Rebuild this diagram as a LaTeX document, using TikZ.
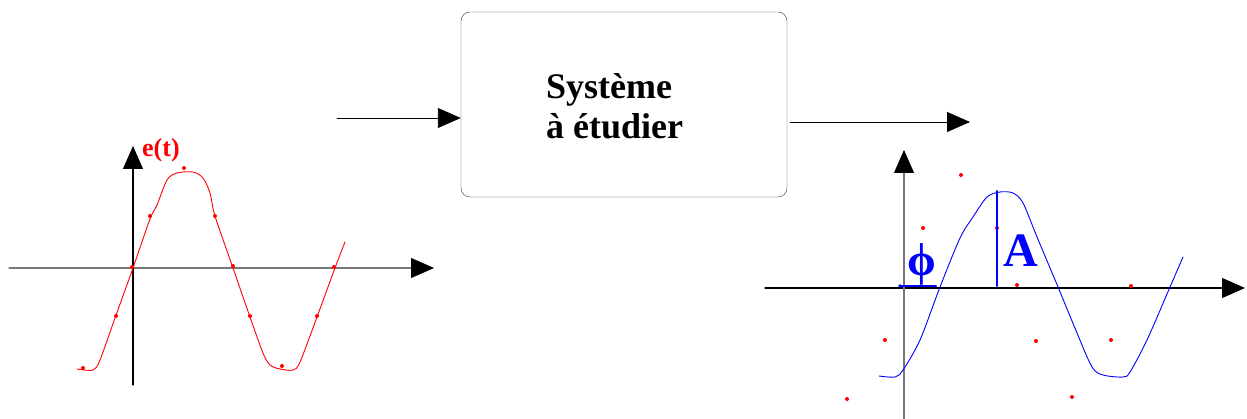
\documentclass[tikz,border=0pt]{standalone}
\usepackage{fontspec}
\setmainfont{Liberation Serif}
\usepackage{tikz}
\usetikzlibrary{arrows.meta,calc,positioning}
\definecolor{signalred}{RGB}{255,0,0}
\definecolor{signalblue}{RGB}{0,0,255}
\definecolor{axisgray}{RGB}{120,120,120}

\begin{document}
\begin{tikzpicture}[x=1pt,y=-1pt,line cap=round,line join=round,
  sysbox/.style={draw=black!80,rounded corners=9pt,minimum width=326pt,minimum height=185pt,inner sep=0pt},
  bigtip/.style={-{Triangle[length=23pt,width=20pt,color=black]}},
  flowarrow/.style={black,line width=.9pt,bigtip},
  axisline/.style={line width=1.1pt,bigtip},
  sample/.style={signalred,radius=2pt}]
 \useasboundingbox (0,0) rectangle (1247,419);
 % the block
 \node[sysbox] (sys) at (624,104.5) {};
 \node[anchor=north west,align=left,inner sep=0pt,font=\bfseries\fontsize{36}{40}\selectfont]
  (systxt) at (546,73) {Système\\à étudier};
 \coordinate (in) at (337,118);
 \coordinate (out) at (970,122);
 \draw[flowarrow] (in) -- (in -| sys.west);
 \draw[flowarrow] (out -| sys.east) ++(3,0) -- (out);
 % input signal
 \coordinate (o1) at (133,268);
 \draw[axisline,axisgray] (9,268) -- (434,268);
 \draw[axisline,black] (133,385) -- (133,146);
 \node[anchor=south west,inner sep=0pt,signalred,font=\bfseries\fontsize{26}{28}\selectfont]
  (elabel) at (142,162) {e(t)};
 \draw[signalred,line width=.9pt] plot[smooth,tension=.5] coordinates {
  (77,369) (93,370) (100,360) (115,318) (133,268) (150,219) (157,205) (167,180)
  (177,173) (193,172) (203,178) (210,193) (215,216) (233,268) (250,317) (263,353)
  (270,365) (280,369) (293,370) (300,362) (317,317) (335,268) (345,242)};
 \foreach \p in {(83,368),(116,316),(132,267),(150,216),(184,168),(215,216),(233,266),
  (250,316),(282,366),(317,316),(334,267)}
  \fill[sample] \p circle[];
 % output signal
 \coordinate (o2) at (904,288);
 \draw[axisline,black] (765,288) -- (1245,288);
 \draw[axisline,axisgray] (904,419) -- (904,150);
 \draw[signalblue,line width=.9pt] plot[smooth,tension=.5] coordinates {
  (879,376) (895,377) (903,370) (920,340) (940,287) (960,238) (973,217) (987,197)
  (1000,192) (1013,193) (1023,203) (1037,237) (1058,287) (1077,333) (1092,367)
  (1103,375) (1123,377) (1130,372) (1147,340) (1170,287) (1183,257)};
 \foreach \p in {(961,175),(923,228),(997,228),(1017,285),(1131,286),(885,340),
  (1036,341),(1111,340),(847,399),(1072,397)}
  \fill[sample] \p circle[];
 % amplitude and phase
 \coordinate (peak) at (997,191);
 \draw[signalblue,line width=2pt] (peak) -- (997,286);
 \node[anchor=base west,inner sep=0pt,signalblue,font=\bfseries\fontsize{48}{50}\selectfont]
  (amp) at (1003,267) {A};
 \coordinate (phi0) at (900,286);
 \draw[signalblue,line width=2pt] (phi0) -- (936,286);
 \fill[signalblue] (phi0) circle (1.8pt);
 \node[anchor=south,inner sep=0pt,signalblue,font=\bfseries\fontsize{46}{48}\selectfont]
  (phase) at (922,285) {ϕ};
\end{tikzpicture}
\end{document}
